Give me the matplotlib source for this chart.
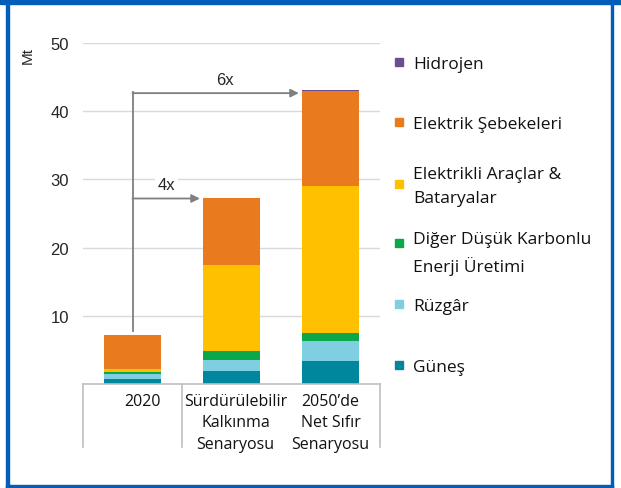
import numpy as np
import matplotlib.pyplot as plt
from matplotlib.patches import Rectangle

# ── Données ────────────────────────────────────────────────
categories = ['2020', 'Sürdürülebilir\nKalkınma\nSenaryosu', '2050’de\nNet Sıfır\nSenaryosu']
series = ['Güneş', 'Rüzgâr', 'Diğer Düşük Karbonlu\nEnerji Üretimi',
          'Elektrikli Araçlar &\nBataryalar', 'Elektrik Şebekeleri', 'Hidrojen']
gunes = [0.7, 1.9, 3.4]
ruzgar = [0.8, 1.6, 2.9]
diger = [0.3, 1.3, 1.2]
araclar = [0.4, 12.6, 21.5]
sebekeler = [5.0, 9.9, 13.9]
hidrojen = [0.0, 0.0, 0.15]
values = [gunes, ruzgar, diger, araclar, sebekeler, hidrojen]
colors = ['#00879E', '#80CFE1', '#0AA74B', '#FFC000', '#E97B1E', '#6B4E90']
multiples = ['4x', '6x']

# ── Figure ─────────────────────────────────────────────────
fig = plt.figure(figsize=(6.21, 4.89), dpi=100)
ax = fig.add_axes([83/621, 104/489, 297/621, 341/489])

x = np.arange(len(categories))
bottom = np.zeros(len(categories))
for vals, col in zip(values, colors):
    ax.bar(x, vals, width=0.57, bottom=bottom, color=col, zorder=3)
    bottom += np.array(vals)
totals = bottom

ax.set_xlim(-0.5, 2.5)
ax.set_ylim(0, 50)
ax.set_yticks([10, 20, 30, 40, 50])
ax.set_yticklabels(['10', '20', '30', '40', '50'], family='Liberation Sans',
                   fontsize=12, color='#262626')
ax.tick_params(axis='y', length=0, pad=10)
ax.set_xticks([])
for s in ax.spines.values():
    s.set_visible(False)
ax.grid(axis='y', color='#D9D9D9', lw=1, zorder=0)
ax.text(-0.185, 0.965, 'Mt', rotation=90, transform=ax.transAxes,
        ha='center', va='center', family='Liberation Sans', fontsize=11,
        color='#262626')

# ── Tableau des catégories ────────────────────────────────
grid_col = '#BFBFBF'
ax.plot([-0.5, 2.5], [0, 0], color=grid_col, lw=1.2, clip_on=False, zorder=4)
for xv in [-0.5, 0.5, 2.5]:
    ax.plot([xv, xv], [0, -9.2], color=grid_col, lw=1.2, clip_on=False)
for xi, lab, dx in zip(x, categories, [0.1, 0.04, 0.0]):
    ax.text(xi + dx, -1.3, lab, ha='center', va='top', fontsize=11.5,
            family='Open Sans', color='#111111', linespacing=1.45)

# ── Flèches de croissance ─────────────────────────────────
arr_col = '#7F7F7F'
ax.plot([0, 0], [totals[0] + 0.6, totals[2] - 0.3], color=arr_col, lw=1.3, zorder=4)
for xi, lab, lx in zip([1, 2], multiples, [0.34, 0.93]):
    y = totals[xi] - 0.1 if xi == 1 else totals[xi] - 0.4
    ax.annotate('', xy=(xi - 0.32, y), xytext=(0, y),
                arrowprops=dict(arrowstyle='-|>', color=arr_col, lw=1.3,
                                mutation_scale=12, shrinkA=0, shrinkB=0),
                zorder=4)
    ax.text(lx, y + 2.0, lab, ha='center', va='center', fontsize=12,
            family='Liberation Sans', color='#262626',
            bbox=dict(facecolor='white', edgecolor='none', pad=2), zorder=5)

# ── Légende ───────────────────────────────────────────────
leg_y = [366, 305, 252, 185, 123, 63]
mark_y = [366, 305, 244, 185, 123, 63]
for col, py in zip(colors, mark_y):
    fig.patches.append(Rectangle((395/621, (489 - py - 4)/489), 8/621, 8/489,
                                 transform=fig.transFigure, color=col))
for lab, py in zip(series, leg_y):
    fig.text(413/621, (489 - py - 2)/489, lab, ha='left', va='center',
             fontsize=12.5, family='Open Sans', color='#111111', linespacing=1.6)

# ── Cadre bleu ────────────────────────────────────────────
blue = '#005EB8'
fig.patches.append(Rectangle((0, 1 - 5/489), 1, 5/489, transform=fig.transFigure, color=blue))
fig.patches.append(Rectangle((6/621, 0), 2.5/621, 1, transform=fig.transFigure, color=blue))
fig.patches.append(Rectangle((610.5/621, 0), 2.5/621, 1, transform=fig.transFigure, color=blue))
fig.patches.append(Rectangle((6/621, 0), 607/621, 3/489, transform=fig.transFigure, color=blue))

plt.savefig('out.png', dpi=100)
